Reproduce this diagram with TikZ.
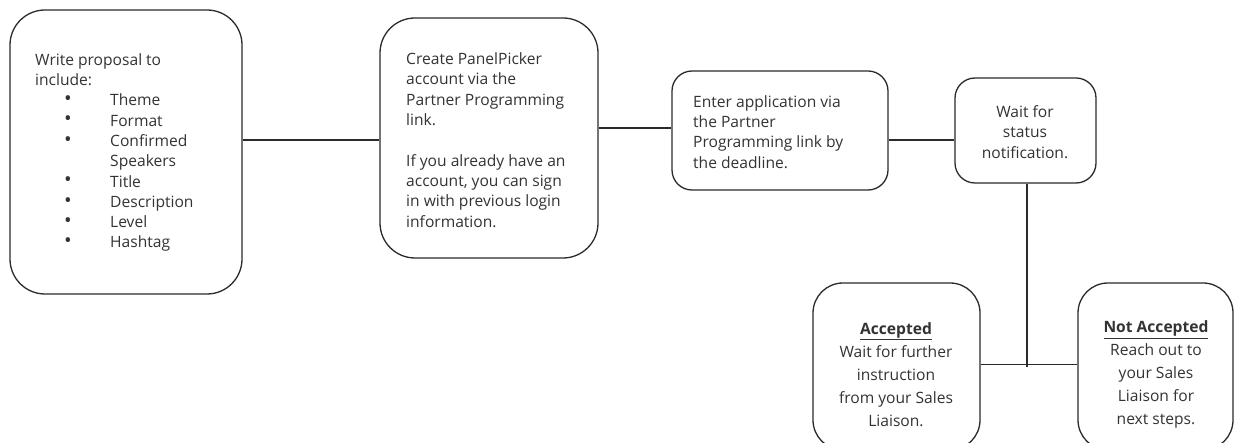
\documentclass[tikz,border=0pt]{standalone}
\usepackage{fontspec}
\usepackage{graphicx}
\setmainfont{Open Sans}
\definecolor{lc}{HTML}{2B2B2B}
\definecolor{tc}{HTML}{333333}
\newcommand{\bitem}{\makebox[75pt][l]{\hspace*{29pt}\smash{\raisebox{0.3pt}{\scalebox{1.3}{\textbullet}}}}}
\begin{document}
\begin{tikzpicture}[x=1pt,y=-1pt,
  box/.style={draw=lc, line width=1.3pt, rounded corners=#1, inner sep=0pt},
  conn/.style={draw=lc, line width=1.2pt},
  txt/.style={text=tc, inner sep=0pt, font=\fontsize{15.6}{20.3}\selectfont}]
\clip (0,0) rectangle (1234,443);
\fill[white] (0,0) rectangle (1234,443);
% boxes
\node[box=35pt, minimum width=232pt, minimum height=284pt] (b1) at (126,152) {};
\node[box=35pt, minimum width=218pt, minimum height=240pt] (b2) at (489,138) {};
\node[box=20pt, minimum width=216pt, minimum height=119pt] (b3) at (780,130.5) {};
\node[box=20pt, minimum width=141pt, minimum height=105pt] (b4) at (1025.5,130.5) {};
\node[box=30pt, minimum width=167pt, minimum height=167pt] (b5) at (896.5,366.5) {};
\node[box=30pt, minimum width=155pt, minimum height=167pt] (b6) at (1155.5,366.5) {};
% texts
\node[txt, align=left, anchor=west] (t1) at (35,152.5) {Write proposal to\\include:\\
\bitem Theme\\
\bitem Format\\
\bitem Confirmed\\
\hspace*{75pt}Speakers\\
\bitem Title\\
\bitem Description\\
\bitem Level\\
\bitem Hashtag};
\node[txt, align=left, anchor=west] (t2) at (406,140) {Create PanelPicker\\account via the\\Partner Programming\\link.\\[20.3pt]If you already have an\\account, you can sign\\in with previous login\\information.};
\node[txt, align=left, anchor=west] (t3) at (693,132) {Enter application via\\the Partner\\Programming link by\\the deadline.};
\node[txt, align=center] (t4) at (1025,132) {Wait for\\status\\notification.};
\node[txt, align=center, font=\fontsize{15.6}{23}\selectfont] (t5) at (896,374.5) {\underline{\textbf{Accepted}}\\Wait for further\\instruction\\from your Sales\\Liaison.};
\node[txt, align=center, font=\fontsize{15.6}{23}\selectfont] (t6) at (1156,374.5) {\underline{\textbf{Not Accepted}}\\Reach out to\\your Sales\\Liaison for\\next steps.};
% connectors
\draw[conn] (b1.east |- 0,140) -- ([yshift=-2pt]b2.west);
\draw[conn] (b2.east |- 0,128) -- ([yshift=2.5pt]b3.west);
\draw[conn] ([yshift=-9.5pt]b3.east) -- ([yshift=-9.5pt]b4.west);
\coordinate (j) at ([xshift=1.5pt]b4.south |- b5.east);
\draw[conn] ([xshift=1.5pt]b4.south) -- ([yshift=-1pt]j);
\draw[conn] ([yshift=2pt]b5.east) -- ([yshift=2pt]b6.west);
\end{tikzpicture}
\end{document}
